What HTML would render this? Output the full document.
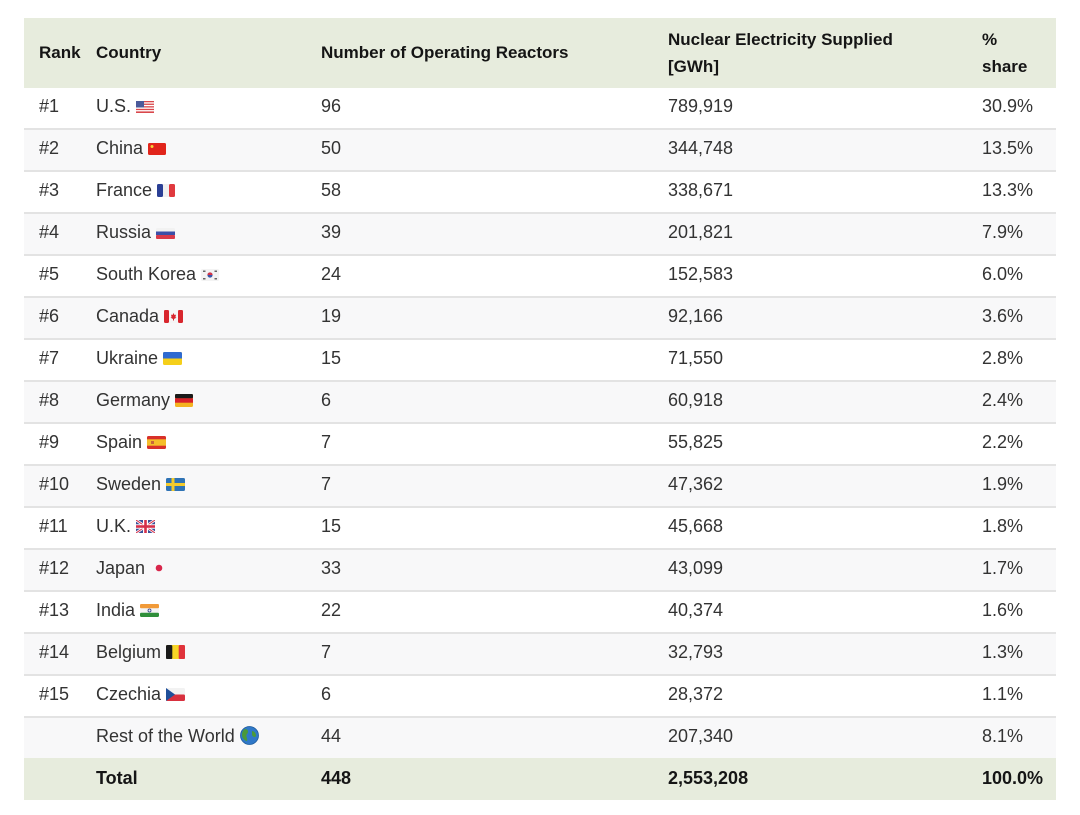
<!DOCTYPE html>
<html>
<head>
<meta charset="utf-8">
<style>
  html,body{margin:0;padding:0;background:#fff;}
  body{width:1080px;height:815px;position:relative;overflow:hidden;font-family:"Liberation Sans",Arial,sans-serif;}
  .hdr{position:absolute;left:24px;top:18px;width:1032px;height:70px;background:#e7ecdd;}
  .h{position:absolute;font-weight:bold;font-size:17px;color:#151515;line-height:27px;white-space:nowrap;}
  .row{position:absolute;left:24px;width:1032px;height:40px;border-bottom:2px solid #e3e3e3;}
  .row.alt{background:#f8f8f9;}
  .row.last{border-bottom:none;}
  .c{position:absolute;top:0;font-size:18px;color:#333;line-height:37px;white-space:nowrap;}
  .tot{position:absolute;left:24px;top:758px;width:1032px;height:42px;background:#e7ecdd;}
  .tot .c{font-weight:bold;color:#151515;line-height:41px;}
  .c1{left:15px}.c2{left:72px}.c3{left:297px}.c4{left:644px}.c5{left:958px}
  svg.f{display:inline-block;vertical-align:-1px;margin-left:5px;}
</style>
</head>
<body>
<div class="hdr">
  <div class="h" style="left:15px;top:20.5px">Rank</div>
  <div class="h" style="left:72px;top:20.5px">Country</div>
  <div class="h" style="left:297px;top:20.5px">Number of Operating Reactors</div>
  <div class="h" style="left:644px;top:7.5px">Nuclear Electricity Supplied<br>[GWh]</div>
  <div class="h" style="left:958px;top:7.5px">%<br>share</div>
</div>

<div class="row" style="top:88px"><span class="c c1">#1</span><span class="c c2">U.S.<svg class="f" width="18" height="12" viewBox="0 0 18 12"><rect width="18" height="12" rx="1.5" fill="#fff"/><g fill="#d9474b"><rect y="0" width="18" height="1.3"/><rect y="2.6" width="18" height="1.3"/><rect y="5.2" width="18" height="1.3"/><rect y="7.8" width="18" height="1.3"/><rect y="10.4" width="18" height="1.6"/></g><rect width="8" height="6.5" fill="#4a5a9a"/></svg></span><span class="c c3">96</span><span class="c c4">789,919</span><span class="c c5">30.9%</span></div>

<div class="row alt" style="top:130px"><span class="c c1">#2</span><span class="c c2">China<svg class="f" width="18" height="12" viewBox="0 0 18 12"><rect width="18" height="12" rx="1.5" fill="#e1251b"/><circle cx="4" cy="3.5" r="1.5" fill="#f5d53a"/></svg></span><span class="c c3">50</span><span class="c c4">344,748</span><span class="c c5">13.5%</span></div>

<div class="row" style="top:172px"><span class="c c1">#3</span><span class="c c2">France<svg class="f" width="18" height="13" viewBox="0 0 18 13"><rect width="18" height="13" rx="1.5" fill="#f0f0f0"/><rect width="6" height="13" rx="1.5" fill="#2a3f95"/><rect x="12" width="6" height="13" rx="1.5" fill="#e0393e"/></svg></span><span class="c c3">58</span><span class="c c4">338,671</span><span class="c c5">13.3%</span></div>

<div class="row alt" style="top:214px"><span class="c c1">#4</span><span class="c c2">Russia<svg class="f" width="19" height="11" viewBox="0 0 19 11"><rect width="19" height="11" rx="1.5" fill="#f2f2f2"/><rect y="3.5" width="19" height="3.7" fill="#3b4fa8"/><rect y="7" width="19" height="4" rx="1" fill="#d83a4a"/></svg></span><span class="c c3">39</span><span class="c c4">201,821</span><span class="c c5">7.9%</span></div>

<div class="row" style="top:256px"><span class="c c1">#5</span><span class="c c2">South Korea<svg class="f" width="18" height="12" viewBox="0 0 18 12"><rect width="18" height="12" rx="1.5" fill="#f3f3f3"/><circle cx="9" cy="6" r="2.6" fill="#3a55a8"/><path d="M6.4 6 A2.6 2.6 0 0 1 11.6 6 Z" fill="#d63445"/><g fill="#666"><rect x="2" y="1.5" width="2.5" height="1.5"/><rect x="13.5" y="1.5" width="2.5" height="1.5"/><rect x="2" y="9" width="2.5" height="1.5"/><rect x="13.5" y="9" width="2.5" height="1.5"/></g></svg></span><span class="c c3">24</span><span class="c c4">152,583</span><span class="c c5">6.0%</span></div>

<div class="row alt" style="top:298px"><span class="c c1">#6</span><span class="c c2">Canada<svg class="f" width="19" height="13" viewBox="0 0 19 13"><rect width="19" height="13" rx="1.5" fill="#f5f5f5"/><rect width="5" height="13" rx="1.2" fill="#d8262e"/><rect x="14" width="5" height="13" rx="1.2" fill="#d8262e"/><path d="M9.5 3 L10.5 5 L12 4.6 L11.4 7.3 L12.5 7.6 L10 9 L10 10.5 L9 10.5 L9 9 L6.5 7.6 L7.6 7.3 L7 4.6 L8.5 5 Z" fill="#d8262e"/></svg></span><span class="c c3">19</span><span class="c c4">92,166</span><span class="c c5">3.6%</span></div>

<div class="row" style="top:340px"><span class="c c1">#7</span><span class="c c2">Ukraine<svg class="f" width="19" height="13" viewBox="0 0 19 13"><rect width="19" height="13" rx="1.5" fill="#f5cf1a"/><path d="M0 1.5 A1.5 1.5 0 0 1 1.5 0 H17.5 A1.5 1.5 0 0 1 19 1.5 V6.5 H0 Z" fill="#2e6ad1"/></svg></span><span class="c c3">15</span><span class="c c4">71,550</span><span class="c c5">2.8%</span></div>

<div class="row alt" style="top:382px"><span class="c c1">#8</span><span class="c c2">Germany<svg class="f" width="18" height="13" viewBox="0 0 18 13"><rect width="18" height="13" rx="1.5" fill="#f4b320"/><rect width="18" height="4.4" rx="1.2" fill="#1a1a1a"/><rect y="4.3" width="18" height="4.4" fill="#d8202a"/></svg></span><span class="c c3">6</span><span class="c c4">60,918</span><span class="c c5">2.4%</span></div>

<div class="row" style="top:424px"><span class="c c1">#9</span><span class="c c2">Spain<svg class="f" width="19" height="13" viewBox="0 0 19 13"><rect width="19" height="13" rx="1.5" fill="#d8302a"/><rect y="3.3" width="19" height="6.4" fill="#f5be2a"/><rect x="4" y="5" width="3" height="3" fill="#c8663a"/></svg></span><span class="c c3">7</span><span class="c c4">55,825</span><span class="c c5">2.2%</span></div>

<div class="row alt" style="top:466px"><span class="c c1">#10</span><span class="c c2">Sweden<svg class="f" width="19" height="13" viewBox="0 0 19 13"><rect width="19" height="13" rx="1.5" fill="#2f73b5"/><rect x="5.5" width="3" height="13" fill="#f3ca2b"/><rect y="5" width="19" height="3" fill="#f3ca2b"/></svg></span><span class="c c3">7</span><span class="c c4">47,362</span><span class="c c5">1.9%</span></div>

<div class="row" style="top:508px"><span class="c c1">#11</span><span class="c c2">U.K.<svg class="f" width="19" height="13" viewBox="0 0 19 13"><rect width="19" height="13" rx="1.5" fill="#3a4f98"/><path d="M0 0 L19 13 M19 0 L0 13" stroke="#fff" stroke-width="2.6"/><path d="M0 0 L19 13 M19 0 L0 13" stroke="#d5304a" stroke-width="1"/><rect x="7" width="5" height="13" fill="#fff"/><rect y="4.3" width="19" height="4.4" fill="#fff"/><rect x="8.2" width="2.6" height="13" fill="#d5304a"/><rect y="5.2" width="19" height="2.6" fill="#d5304a"/></svg></span><span class="c c3">15</span><span class="c c4">45,668</span><span class="c c5">1.8%</span></div>

<div class="row alt" style="top:550px"><span class="c c1">#12</span><span class="c c2">Japan<svg class="f" width="18" height="13" viewBox="0 0 18 13"><rect width="18" height="13" rx="1.5" fill="#f8f8f9"/><circle cx="9" cy="6" r="3.3" fill="#d8264b"/></svg></span><span class="c c3">33</span><span class="c c4">43,099</span><span class="c c5">1.7%</span></div>

<div class="row" style="top:592px"><span class="c c1">#13</span><span class="c c2">India<svg class="f" width="19" height="13" viewBox="0 0 19 13"><rect width="19" height="13" rx="1.5" fill="#f4f4f4"/><rect width="19" height="4.3" rx="1.2" fill="#f19a38"/><rect y="8.7" width="19" height="4.3" rx="1.2" fill="#2f8f3a"/><circle cx="9.5" cy="6.5" r="1.5" fill="none" stroke="#2a3a8a" stroke-width="0.8"/></svg></span><span class="c c3">22</span><span class="c c4">40,374</span><span class="c c5">1.6%</span></div>

<div class="row alt" style="top:634px"><span class="c c1">#14</span><span class="c c2">Belgium<svg class="f" width="19" height="14" viewBox="0 0 19 14"><rect width="19" height="14" rx="1.5" fill="#f6d526"/><rect width="6.3" height="14" rx="1.3" fill="#1a1a1a"/><rect x="12.7" width="6.3" height="14" rx="1.3" fill="#e0333b"/></svg></span><span class="c c3">7</span><span class="c c4">32,793</span><span class="c c5">1.3%</span></div>

<div class="row" style="top:676px"><span class="c c1">#15</span><span class="c c2">Czechia<svg class="f" width="19" height="13" viewBox="0 0 19 13"><rect width="19" height="13" rx="1.5" fill="#f2f2f2"/><rect y="6.5" width="19" height="6.5" rx="1.2" fill="#d8303e"/><path d="M0 0 L9 6.5 L0 13 Z" fill="#1f4f9a"/></svg></span><span class="c c3">6</span><span class="c c4">28,372</span><span class="c c5">1.1%</span></div>

<div class="row alt last" style="top:718px"><span class="c c2">Rest of the World<svg class="f" width="19" height="19" viewBox="0 0 19 19" style="vertical-align:-3px"><circle cx="9.5" cy="9.5" r="9" fill="#2f78c8"/><path d="M5 3 C8 3 9 6 7 8 C5 10 8 12 7 15 C5 15 2 12 2 9 C2 6 3 4 5 3 Z" fill="#4a9a3a"/><path d="M12 5 C14 5 16 7 16 10 C15 12 13 11 12 9 Z" fill="#4a9a3a"/><circle cx="9.5" cy="9.5" r="9" fill="none" stroke="#1d5a9a" stroke-width="0.8"/></svg></span><span class="c c3">44</span><span class="c c4">207,340</span><span class="c c5">8.1%</span></div>

<div class="tot"><span class="c c2">Total</span><span class="c c3">448</span><span class="c c4">2,553,208</span><span class="c c5">100.0%</span></div>
</body>
</html>
